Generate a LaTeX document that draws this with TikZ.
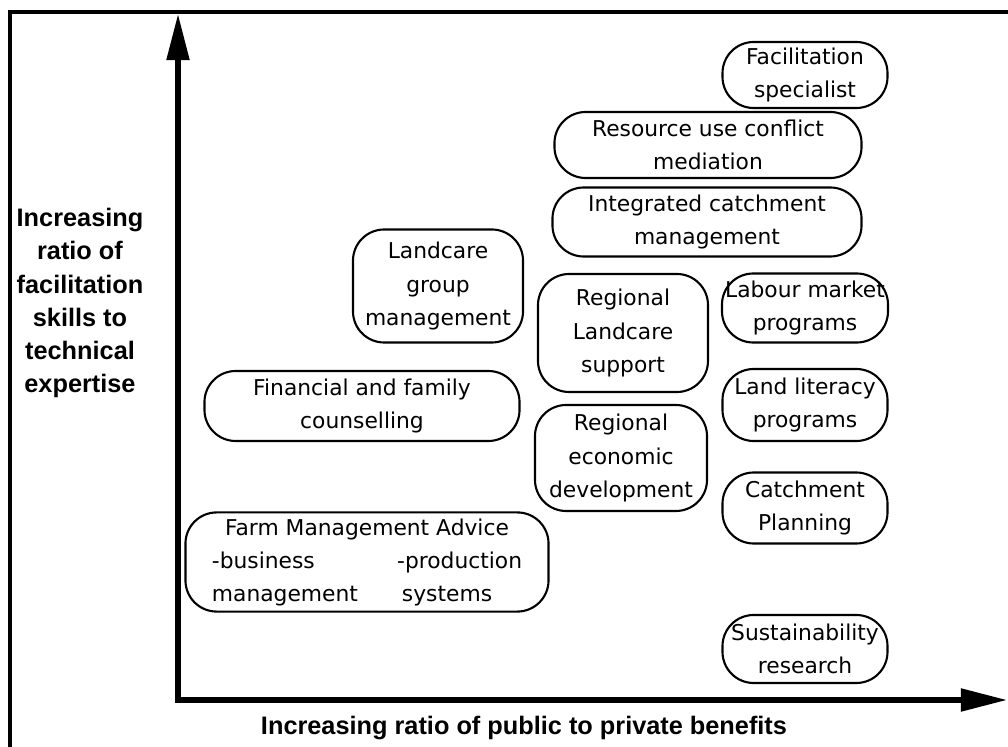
\documentclass[tikz,border=0pt]{standalone}
\usepackage{fontspec}
\setmainfont{DejaVu Sans}
\newfontfamily\axisfont{Liberation Sans}
\usetikzlibrary{arrows.meta}
\tikzset{>=latex}
\tikzstyle{role} = [%
					draw,
					line width = 1.5pt,
					rounded corners = 0.78cm,
					align = center,
					inner sep = 0pt,
					font = \fontsize{15.5}{23.5}\selectfont
					]
\tikzstyle{axis} = [%
					line width = 3.6pt,
					{Triangle[length=1.15cm, width=0.55cm]}-{Triangle[length=1.15cm, width=0.55cm]}
					]
\tikzstyle{axislabel} = [align = center, inner sep = 0pt, font = \axisfont\bfseries\fontsize{18}{23.5}\selectfont]

\begin{document}
\begin{tikzpicture}[x=0.025cm, y=-0.025cm, boxsize/.style args={#1,#2}{minimum width=#1, minimum height=#2}]

	\useasboundingbox (0,0) rectangle (1008,747);

	% Frame
	\draw[line width = 3pt] (10,747) -- (10,12) -- (1008,12);

	% Axes
	\coordinate (O) at (178,700);
	\coordinate (Y) at (178,14);
	\coordinate (X) at (1007,700);
	\draw[axis] (Y) -- (O) -- (X);

	% Axis labels
	\node[axislabel] (ylab) at (80,303) {Increasing\\ratio of\\facilitation\\skills to\\technical\\expertise};
	\node[axislabel] (xlab) at (524,728) {Increasing ratio of public to private benefits};

	% Roles
	\node[role, boxsize={4.125cm,1.65cm}]  (fs)   at (805,75)  {Facilitation\\specialist};
	\node[role, boxsize={7.675cm,1.65cm}]  (rucm) at (708,145) {Resource use conflict\\mediation};
	\node[role, boxsize={7.725cm,1.725cm}] (icm)  at (707,222) {Integrated catchment\\management};
	\node[role, boxsize={4.25cm,2.825cm}]  (lgm)  at (438,286) {Landcare\\group\\management};
	\node[role, boxsize={4.25cm,2.95cm}]   (rls)  at (623,333) {Regional\\Landcare\\support};
	\node[role, boxsize={4.15cm,1.725cm}]  (lmp)  at (805,308) {Labour market\\programs};
	\node[role, boxsize={7.875cm,1.75cm}]  (ffc)  at (362,406) {Financial and family\\counselling};
	\node[role, boxsize={4.125cm,1.8cm}]   (llp)  at (805,405) {Land literacy\\programs};
	\node[role, boxsize={4.3cm,2.65cm}]    (red)  at (621,458) {Regional\\economic\\development};
	\node[role, boxsize={4.125cm,1.775cm}] (cp)   at (805,508) {Catchment\\Planning};
	\node[role, boxsize={9.075cm,2.4cm}]   (fma)  at (367,562) {%
		\begin{tabular}{@{}l@{\hspace{0.98cm}}l@{}}
			\multicolumn{2}{@{}c@{}}{Farm Management Advice}\\
			-business & -production\\
			management & \hspace{0.12cm}systems
		\end{tabular}};
	\node[role, boxsize={4.125cm,1.7cm}]   (sr)   at (805,649) {Sustainability\\research};

\end{tikzpicture}
\end{document}
